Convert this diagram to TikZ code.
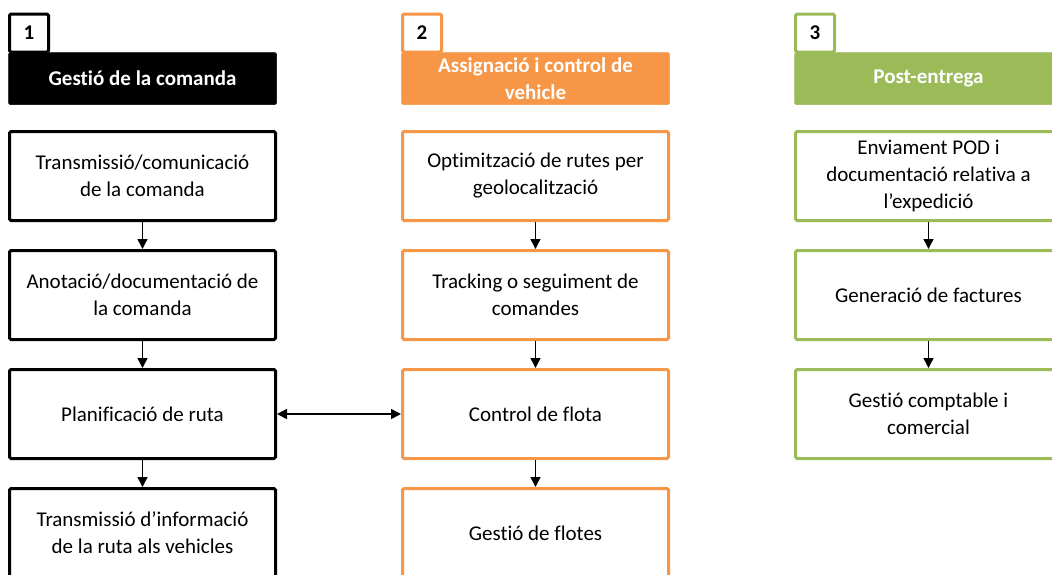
\documentclass[tikz,border=0pt]{standalone}
\usepackage{fontspec}
\setmainfont{Carlito}[Ligatures={NoCommon}]
\usetikzlibrary{arrows.meta}
\definecolor{ordorange}{HTML}{F79646}
\definecolor{ordgreen}{HTML}{9BBB59}
\begin{document}
\begin{tikzpicture}[x=1pt,y=-1pt,
  every node/.style={font=\fontsize{21}{27}\selectfont, align=center, inner sep=0pt},
  stepbox/.style={draw=#1, line width=3pt, fill=white, minimum width=266pt,
    minimum height=89pt, rounded corners=1.5pt, text=black},
  headbox/.style={fill=#1, draw=#1, line width=0.5pt, minimum width=268pt,
    minimum height=52pt, rounded corners=1.5pt, text=white, font=\fontsize{21}{27}\selectfont\bfseries},
  tabbox/.style={draw=#1, line width=3pt, fill=white, minimum width=39pt,
    minimum height=38pt, rounded corners=1.5pt, font=\fontsize{21}{27}\selectfont\bfseries},
  flow/.style={line width=1.5pt, -{Triangle[width=10pt,length=10pt]}},
  twoway/.style={line width=1.5pt, {Triangle[width=10pt,length=10pt]}-{Triangle[width=10pt,length=10pt]}}
]
\path[use as bounding box, clip] (0,0) rectangle (1052,574);

% column 1: order management
\node[tabbox=black]  (t1) at (29,33) {1};
\node[headbox=black] (h1) at (142.5,78.5) {Gestió de la comanda};
\node[stepbox=black] (a1) at (142.5,176) {Transmissió/comunicació\\de la comanda};
\node[stepbox=black] (a2) at (142.5,295) {Anotació/documentació de\\la comanda};
\node[stepbox=black] (a3) at (142.5,414) {Planificació de ruta};
\node[stepbox=black] (a4) at (142.5,533) {Transmissió d’informació\\de la ruta als vehicles};

% column 2: vehicle assignment and control
\node[tabbox=ordorange]  (t2) at (422,33) {2};
\node[headbox=ordorange] (h2) at (535.5,78.5) {Assignació i control de\\vehicle};
\node[stepbox=ordorange] (b1) at (535.5,176) {Optimització de rutes per\\geolocalització};
\node[stepbox=ordorange] (b2) at (535.5,295) {Tracking o seguiment de\\comandes};
\node[stepbox=ordorange] (b3) at (535.5,414) {Control de flota};
\node[stepbox=ordorange] (b4) at (535.5,533) {Gestió de flotes};

% column 3: post-delivery
\node[tabbox=ordgreen]  (t3) at (815,33) {3};
\node[headbox=ordgreen] (h3) at (928.5,78.5) {Post-entrega};
\node[stepbox=ordgreen] (c1) at (928.5,176) {Enviament POD i\\documentació relativa a\\l’expedició};
\node[stepbox=ordgreen] (c2) at (928.5,295) {Generació de factures};
\node[stepbox=ordgreen] (c3) at (928.5,414) {Gestió comptable i\\comercial};

% connectors
\draw[flow] (a1.south) -- (a2.north);
\draw[flow] (a2.south) -- (a3.north);
\draw[flow] (a3.south) -- (a4.north);
\draw[flow] (b1.south) -- (b2.north);
\draw[flow] (b2.south) -- (b3.north);
\draw[flow] (b3.south) -- (b4.north);
\draw[flow] (c1.south) -- (c2.north);
\draw[flow] (c2.south) -- (c3.north);
\draw[twoway] (a3.east) -- (b3.west);
\end{tikzpicture}
\end{document}
